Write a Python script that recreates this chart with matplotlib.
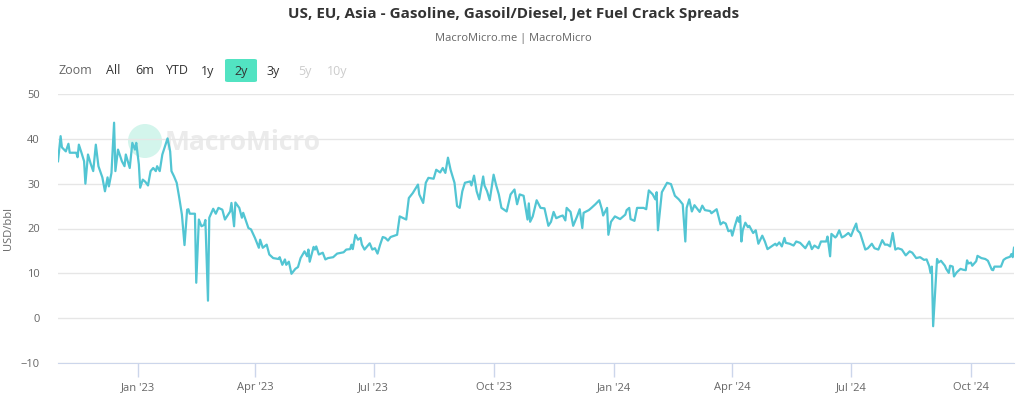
import numpy as np
import matplotlib
matplotlib.use("Agg")
import matplotlib.pyplot as plt
import matplotlib.dates as mdates
from matplotlib.patches import Circle, FancyBboxPatch
from matplotlib.transforms import IdentityTransform

# series: days since the first point, and USD/bbl
start_date = np.datetime64("2022-11-01")
days = [0, 2, 3, 6, 8, 9, 14, 15, 16, 18, 20, 21, 23, 25, 27, 29, 31, 34, 36, 38,
        39, 41, 43, 44, 46, 49, 51, 52, 55, 57, 59, 60, 62, 63, 65, 67, 69, 71, 73, 75,
        76, 78, 80, 84, 86, 87, 89, 91, 93, 95, 97, 99, 100, 101, 105, 106, 108, 110, 112, 113,
        115, 116, 119, 121, 123,
        126, 128, 132, 133, 135, 136, 139, 141, 142, 146, 148, 151, 154, 155, 157, 160, 162, 165, 169, 170,
        172, 174, 175, 177, 179, 182, 184, 186, 189, 191, 192, 193, 196, 197, 198, 200, 203, 205, 207, 211,
        214, 219, 221, 224, 225, 226, 228, 230, 232, 233, 235, 239, 241, 243, 245, 247, 249, 251, 253, 255,
        257, 260, 262, 267, 269,
        272, 276, 277, 280, 282, 284, 288, 290, 293, 295, 297, 299, 301, 304, 306, 308, 310, 312, 316, 317,
        319, 321, 323, 326, 327, 329, 331, 334, 336, 338, 340, 344, 347, 350, 352, 354, 357, 359, 360, 361,
        362, 364, 367, 370, 373, 376, 378, 380, 382, 385, 387, 389, 390, 393, 395, 398, 400, 402, 403, 407,
        409, 412, 415, 417, 418, 421, 422, 424, 427, 431, 435, 436, 438, 439, 442, 444, 449, 451, 453, 456,
        458, 459, 460, 463, 467, 470, 473, 476, 479,
        481, 482, 484, 486, 488, 492, 494, 496, 500, 501, 505, 508, 510, 512, 514, 516, 517, 519, 521, 522,
        523, 524, 525, 527, 529, 530, 533, 535, 537, 540, 542, 544, 547, 550, 551, 553, 555, 557, 558, 561,
        564, 566, 569, 573, 576, 578, 580, 583, 585, 589, 590, 592, 593, 596, 597, 599, 601, 603, 606, 608,
        610, 612, 613, 615, 619, 621, 624, 626, 629, 632, 634, 636, 638, 640, 642, 644, 647, 650, 653, 655,
        658, 661, 664, 666, 668, 669, 670, 671, 674, 675, 677, 680, 681, 683, 684, 686, 687, 689, 692, 694,
        696, 697, 698, 700, 701, 704, 705, 708, 711, 713, 716, 717, 718, 723, 725, 727, 730, 731, 732, 733]
crack_spread = [35.0, 40.6, 38.1, 37.2, 38.9, 36.9, 36.9, 35.9, 38.7, 36.9, 35.0, 30.0, 36.5, 34.5, 32.8, 38.7, 33.9, 31.4, 28.3, 31.4,
                29.4, 32.4, 43.6, 32.8, 37.6, 35.0, 33.9, 36.5, 33.5, 39.1, 37.6, 39.1, 34.3, 29.1, 30.9, 30.4, 29.6, 32.8, 33.5, 32.8,
                33.9, 32.8, 36.5, 40.1, 37.2, 32.8, 31.6, 30.2, 26.8, 23.1, 16.3, 24.2, 24.3, 23.3, 23.3, 7.9, 22.0, 20.5, 20.8, 21.9,
                3.9, 22.4, 24.4, 23.3, 24.6,
                24.2, 22.0, 23.8, 25.7, 20.5, 25.8, 24.6, 22.4, 23.5, 20.1, 19.8, 17.9, 15.7, 17.5, 15.7, 16.4, 14.2, 13.4, 13.2, 13.6,
                11.9, 13.1, 11.9, 12.6, 9.9, 11.0, 11.4, 13.4, 14.9, 13.8, 15.3, 12.6, 15.9, 15.3, 16.0, 14.2, 14.6, 13.1, 13.4, 13.6,
                14.4, 14.7, 15.3, 15.4, 16.4, 15.4, 18.6, 17.5, 17.9, 16.4, 15.3, 16.7, 15.3, 15.6, 14.4, 16.4, 18.1, 17.9, 17.3, 18.1,
                18.3, 18.6, 22.7, 22.0, 26.8,
                27.9, 29.8, 27.6, 25.7, 30.2, 31.3, 31.1, 33.1, 32.5, 33.5, 32.4, 35.8, 33.1, 30.2, 25.0, 24.6, 28.3, 30.2, 30.5, 29.6,
                31.8, 28.3, 26.5, 31.6, 29.6, 28.3, 26.3, 32.0, 29.6, 27.6, 24.6, 23.8, 27.6, 28.7, 25.4, 27.6, 27.3, 23.8, 22.0, 25.6,
                21.5, 22.7, 26.3, 24.6, 24.5, 20.6, 21.5, 23.7, 22.3, 22.7, 22.9, 21.8, 24.6, 23.7, 20.6, 22.7, 24.3, 20.1, 23.5, 24.1,
                24.6, 25.4, 26.3, 24.3, 22.9, 24.6, 18.6, 21.5, 22.7, 22.1, 23.1, 24.1, 24.6, 22.1, 21.7, 24.6, 24.6, 24.3, 28.5, 27.6,
                26.5, 28.1, 19.6, 28.1, 30.2, 29.9, 27.3, 26.5, 25.4,
                17.1, 24.6, 26.5, 23.8, 25.2, 23.7, 25.1, 24.1, 23.9, 23.4, 24.3, 20.9, 21.4, 21.1, 19.4, 19.6, 18.4, 20.6, 22.5, 21.5,
                22.8, 17.1, 19.6, 21.3, 20.3, 20.6, 19.0, 19.6, 16.6, 18.4, 17.1, 15.4, 16.0, 16.6, 16.2, 16.9, 16.0, 17.9, 16.8, 16.6,
                16.2, 17.1, 16.8, 15.6, 17.1, 15.4, 16.2, 15.6, 17.1, 17.1, 18.2, 13.8, 18.8, 18.0, 18.3, 19.6, 18.0, 18.3, 19.0, 18.3,
                19.8, 21.1, 19.6, 19.0, 15.3, 15.6, 16.6, 15.6, 15.3, 17.4, 16.4, 16.4, 16.0, 19.0, 15.3, 15.6, 15.3, 14.0, 14.9, 14.6,
                13.4, 13.6, 13.0, 13.1, 11.6, 10.1, 11.5, -1.8, 13.2, 12.4, 12.8, 11.7, 11.0, 10.1, 11.7, 11.5, 9.3, 10.2, 11.0, 10.8,
                10.7, 12.9, 12.2, 12.4, 11.7, 12.7, 13.9, 13.4, 13.2, 12.8, 10.8, 10.7, 11.5, 11.5, 13.0, 13.4, 13.7, 14.3, 13.6, 15.7]

y_ticks = [-10, 0, 10, 20, 30, 40, 50]
buttons = ["Zoom", "All", "6m", "YTD", "1y", "2y", "3y", "5y", "10y"]

dates = start_date + np.array(days).astype("timedelta64[D]")

plt.rcParams["font.family"] = ["Open Sans", "DejaVu Sans"]

W, H = 1027, 404
fig = plt.figure(figsize=(W / 100, H / 100), dpi=100)
ax = fig.add_axes([58 / W, 41 / H, 956 / W, 269 / H])
ax.set_zorder(2)
ax.patch.set_alpha(0)

# watermark behind the line (pixel coordinates)
wm = Circle((145, H - 141), 17, transform=IdentityTransform(),
            facecolor="#d3f5ec", edgecolor="none", zorder=0)
fig.patches.append(wm)
fig.text(165 / W, 1 - 143 / H, "MacroMicro", fontsize=19, fontweight="bold",
         color="#ebebeb", va="center", ha="left", zorder=0)

ax.plot(dates, crack_spread, color="#52c5d3", linewidth=1.6, zorder=3)

ax.set_ylim(-10, 50)
ax.set_yticks(y_ticks)
ax.set_xlim(dates[0], dates[-1])
ax.xaxis.set_major_locator(mdates.MonthLocator(bymonth=[1, 4, 7, 10]))
ax.xaxis.set_major_formatter(mdates.DateFormatter("%b '%y"))

ax.grid(axis="y", color="#e6e6e6", linewidth=1)
ax.set_axisbelow(True)
for s in ["top", "right", "left"]:
    ax.spines[s].set_visible(False)
ax.spines["bottom"].set_color("#ccd6eb")
ax.tick_params(axis="y", length=0, pad=13, labelsize=8, labelcolor="#666666")
ax.tick_params(axis="x", length=10, width=1, color="#ccd6eb", pad=4,
               labelsize=8, labelcolor="#666666")
ax.set_ylabel("USD/bbl", fontsize=8, color="#666666")
ax.yaxis.set_label_coords(-0.046, 0.5)

# title and subtitle
fig.text(0.5, 1 - 14 / H, "US, EU, Asia - Gasoline, Gasoil/Diesel, Jet Fuel Crack Spreads",
         ha="center", va="center", fontsize=11, fontweight="bold", color="#333333")
fig.text(0.5, 1 - 38 / H, "MacroMicro.me | MacroMicro", ha="center", va="center",
         fontsize=8, color="#666666")

# range selector buttons
btn_x = [75, 113, 145, 177, 208, 241, 273, 305, 337]
box = FancyBboxPatch((225 / W, 1 - 82 / H), 32 / W, 23 / H,
                     boxstyle="round,pad=0,rounding_size=0.003",
                     transform=fig.transFigure, facecolor="#52e3c2", edgecolor="none")
fig.patches.append(box)
for label, bx in zip(buttons, btn_x):
    col = "#cccccc" if label in ("5y", "10y") else "#333333"
    if label == "Zoom":
        col = "#666666"
    fig.text(bx / W, 1 - 71 / H, label, ha="center", va="center", fontsize=9, color=col)

fig.savefig("out.png", dpi=100)
